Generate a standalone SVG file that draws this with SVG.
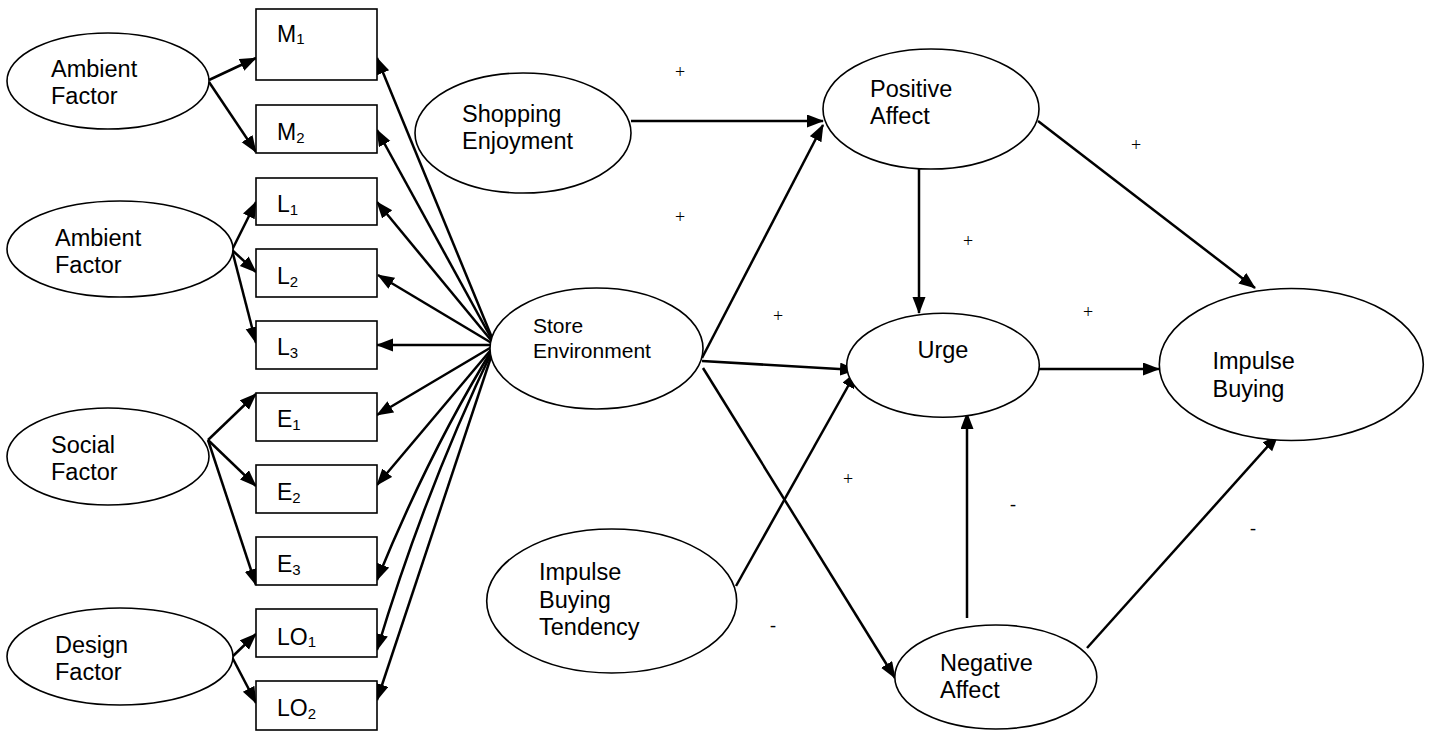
<svg xmlns="http://www.w3.org/2000/svg" width="1434" height="732" viewBox="0 0 1434 732">
<style>
.n{fill:#fff;stroke:#000;stroke-width:1.6}
.b{fill:#fff;stroke:#000;stroke-width:1.6}
.t{font-family:"Liberation Sans",Arial,sans-serif;font-size:23.5px;fill:#000}
.ts{font-family:"Liberation Sans",Arial,sans-serif;font-size:21px;fill:#000}
.bt{font-family:"Liberation Sans",Arial,sans-serif;font-size:23px;fill:#000}
.sub{font-size:15px}
.c line,.c path{stroke:#000;stroke-width:2.5;fill:none;marker-end:url(#ah)}
.s{font-family:"Liberation Serif","Times New Roman",serif;font-size:18px;fill:#000;text-anchor:middle}
</style>
<defs>
<marker id="ah" markerUnits="userSpaceOnUse" markerWidth="19" markerHeight="15" refX="16" refY="6.5" orient="auto">
<path d="M0,0 L17,6.5 L0,13 z" fill="#000"/>
</marker>
</defs>
<rect width="1434" height="732" fill="#fff"/>

<g id="connectors" class="c">
<line x1="209" y1="80" x2="256" y2="58"/>
<line x1="209" y1="82" x2="256" y2="152"/>
<line x1="232" y1="250" x2="256" y2="202"/>
<line x1="232" y1="250" x2="256" y2="272"/>
<line x1="232" y1="250" x2="256" y2="343"/>
<line x1="208" y1="440" x2="256" y2="394"/>
<line x1="208" y1="440" x2="256" y2="486"/>
<line x1="208" y1="440" x2="256" y2="585"/>
<line x1="232" y1="657" x2="256" y2="634"/>
<line x1="232" y1="657" x2="256" y2="703"/>

<line x1="495" y1="345" x2="377" y2="58"/>
<line x1="495" y1="345" x2="377" y2="130"/>
<line x1="495" y1="345" x2="377" y2="202"/>
<line x1="495" y1="345" x2="378" y2="275"/>
<line x1="495" y1="345" x2="377" y2="345"/>
<line x1="495" y1="345" x2="377" y2="415"/>
<line x1="495" y1="345" x2="377" y2="485"/>
<path d="M495,345 Q430,450 377,580"/>
<path d="M495,345 Q425,490 377,650"/>
<line x1="495" y1="345" x2="377" y2="700"/>

<line x1="631" y1="121" x2="823" y2="121"/>
<line x1="702" y1="358" x2="823" y2="125"/>
<line x1="702" y1="361" x2="856" y2="370"/>
<line x1="703" y1="368" x2="895" y2="678"/>
<line x1="736" y1="586" x2="856" y2="372"/>
<line x1="919" y1="169" x2="919" y2="313"/>
<line x1="1038" y1="121" x2="1255" y2="288"/>
<line x1="1039" y1="369" x2="1159" y2="369"/>
<line x1="967" y1="618" x2="967" y2="413"/>
<line x1="1087" y1="648" x2="1278" y2="435"/>
</g>

<g id="ambient-factor-1"><ellipse class="n" cx="108" cy="81" rx="101" ry="48"/><text class="t" x="51" y="77">Ambient</text><text class="t" x="51" y="104">Factor</text></g>
<g id="ambient-factor-2"><ellipse class="n" cx="120" cy="249" rx="113" ry="48"/><text class="t" x="55" y="245.5">Ambient</text><text class="t" x="55" y="272.5">Factor</text></g>
<g id="social-factor"><ellipse class="n" cx="108" cy="456.5" rx="101" ry="48.5"/><text class="t" x="51" y="453">Social</text><text class="t" x="51" y="480">Factor</text></g>
<g id="design-factor"><ellipse class="n" cx="120" cy="656.5" rx="113" ry="48.5"/><text class="t" x="55" y="653">Design</text><text class="t" x="55" y="680">Factor</text></g>

<g id="box-m1"><rect class="b" x="256" y="9" width="121" height="71"/><text class="bt" x="277" y="42">M<tspan class="sub" dy="2">1</tspan></text></g>
<g id="box-m2"><rect class="b" x="256" y="105" width="121" height="48"/><text class="bt" x="277" y="140">M<tspan class="sub" dy="3">2</tspan></text></g>
<g id="box-l1"><rect class="b" x="256" y="178" width="121" height="47"/><text class="bt" x="277" y="212">L<tspan class="sub" dy="3">1</tspan></text></g>
<g id="box-l2"><rect class="b" x="256" y="249" width="121" height="48"/><text class="bt" x="277" y="284">L<tspan class="sub" dy="3">2</tspan></text></g>
<g id="box-l3"><rect class="b" x="256" y="321" width="121" height="48"/><text class="bt" x="277" y="355">L<tspan class="sub" dy="3">3</tspan></text></g>
<g id="box-e1"><rect class="b" x="256" y="393" width="121" height="48"/><text class="bt" x="277" y="427">E<tspan class="sub" dy="3">1</tspan></text></g>
<g id="box-e2"><rect class="b" x="256" y="465" width="121" height="48"/><text class="bt" x="277" y="500">E<tspan class="sub" dy="3">2</tspan></text></g>
<g id="box-e3"><rect class="b" x="256" y="537" width="121" height="48"/><text class="bt" x="277" y="572">E<tspan class="sub" dy="3">3</tspan></text></g>
<g id="box-lo1"><rect class="b" x="256" y="609" width="121" height="48"/><text class="bt" x="277" y="645">LO<tspan class="sub" dy="2">1</tspan></text></g>
<g id="box-lo2"><rect class="b" x="256" y="681" width="121" height="49"/><text class="bt" x="277" y="716">LO<tspan class="sub" dy="3">2</tspan></text></g>

<g id="shopping-enjoyment"><ellipse class="n" cx="523" cy="133" rx="108" ry="60"/><text class="t" x="462" y="121.5">Shopping</text><text class="t" x="462" y="149">Enjoyment</text></g>
<g id="store-environment"><ellipse class="n" cx="596.5" cy="348.5" rx="106.5" ry="60.5"/><text class="ts" x="533" y="333">Store</text><text class="ts" x="533" y="358">Environment</text></g>
<g id="impulse-buying-tendency"><ellipse class="n" cx="611.7" cy="601" rx="125" ry="72"/><text class="t" x="539" y="580">Impulse</text><text class="t" x="539" y="607.5">Buying</text><text class="t" x="539" y="635">Tendency</text></g>
<g id="positive-affect"><ellipse class="n" cx="931" cy="109" rx="108" ry="60"/><text class="t" x="870" y="96.5">Positive</text><text class="t" x="870" y="124">Affect</text></g>
<g id="urge"><ellipse class="n" cx="943" cy="365.3" rx="96.3" ry="52"/><text class="t" x="917.5" y="358">Urge</text></g>
<g id="negative-affect"><ellipse class="n" cx="995.8" cy="677" rx="101" ry="52"/><text class="t" x="940" y="670.5">Negative</text><text class="t" x="940" y="697.5">Affect</text></g>
<g id="impulse-buying"><ellipse class="n" cx="1291.3" cy="364.5" rx="132" ry="76"/><text class="t" x="1212.5" y="369">Impulse</text><text class="t" x="1212.5" y="396.5">Buying</text></g>

<g id="signs">
<text class="s" x="680" y="78">+</text>
<text class="s" x="680" y="222.5">+</text>
<text class="s" x="778" y="322">+</text>
<text class="s" x="968" y="246.5">+</text>
<text class="s" x="1088" y="318">+</text>
<text class="s" x="1136" y="150.5">+</text>
<text class="s" x="848" y="484.5">+</text>
<text class="s" x="773" y="631">-</text>
<text class="s" x="1013" y="510">-</text>
<text class="s" x="1253" y="534">-</text>
</g>
</svg>
